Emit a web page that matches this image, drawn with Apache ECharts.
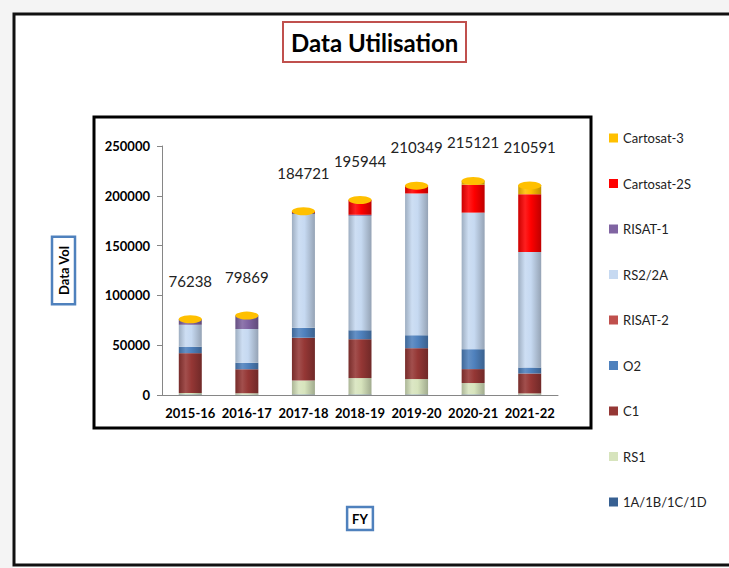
<!DOCTYPE html>
<html><head><meta charset="utf-8">
<script src="https://cdn.jsdelivr.net/npm/echarts@6/dist/echarts.min.js"></script>
<style>html,body{margin:0;padding:0;background:#fff}#chart{width:729px;height:568px}</style>
</head><body><div id="chart"></div>
<script>
const categories = ['2015-16','2016-17','2017-18','2018-19','2019-20','2020-21','2021-22'];
const s1A      = [500, 300, 500, 500, 500, 500, 300];
const sRS1     = [1500, 1500, 14000, 16500, 15500, 11500, 1291];
const sC1      = [40000, 24000, 43000, 39000, 31000, 14000, 20000];
const sO2      = [6500, 6500, 10000, 9000, 13000, 20000, 6000];
const sRISAT2  = [0, 0, 0, 0, 0, 0, 0];
const sRS2     = [22000, 34000, 114221, 114944, 142349, 137121, 116000];
const sRISAT1  = [5738, 13569, 1000, 1000, 0, 0, 0];
const sCarto2S = [0, 0, 2000, 15000, 8000, 28000, 58000];
const sCarto3  = [0, 0, 0, 0, 0, 4000, 9000];
const totals   = [76238, 79869, 184721, 195944, 210349, 215121, 210591];
const yMin = 0, yMax = 250000, yStep = 50000;

const seriesDefs = [
  ['1A/1B/1C/1D', s1A, '#376092'],
  ['RS1', sRS1, '#D7E4BD'],
  ['C1', sC1, '#953735'],
  ['O2', sO2, '#4F81BD'],
  ['RISAT-2', sRISAT2, '#C0504D'],
  ['RS2/2A', sRS2, '#C6D9F1'],
  ['RISAT-1', sRISAT1, '#8064A2'],
  ['Cartosat-2S', sCarto2S, '#FF0000'],
  ['Cartosat-3', sCarto3, '#FFC000']
];
function mix(hex, t) {
  const n = parseInt(hex.slice(1), 16);
  let r = n >> 16, g = (n >> 8) & 255, b = n & 255;
  const f = c => Math.round(t < 0 ? c * (1 + t) : c + (255 - c) * t);
  return 'rgb(' + f(r) + ',' + f(g) + ',' + f(b) + ')';
}
function cyl(c) {
  return { type: 'linear', x: 0, y: 0, x2: 1, y2: 0, colorStops: [
    { offset: 0, color: mix(c, -0.2) }, { offset: 0.3, color: mix(c, 0.12) },
    { offset: 0.55, color: c }, { offset: 1, color: mix(c, -0.25) } ] };
}
const FONT = 'Lato';
const series = seriesDefs.map(([name, data, color]) => ({
  name, type: 'bar', stack: 'total', data, barWidth: 23,
  itemStyle: { color: cyl(color) }
}));
series.push({
  name: 'cap', type: 'pictorialBar', data: totals, symbol: 'circle',
  symbolSize: [23, 8], symbolPosition: 'end', symbolOffset: [0, '-50%'], z: 10,
  itemStyle: { color: '#FFC000', borderColor: '#D9A300', borderWidth: 0.5 },
  label: { show: true, position: 'top', distance: 27, fontFamily: FONT, fontSize: 15, color: '#222' },
  silent: true
});
const legendData = seriesDefs.slice().reverse().map(([name, , color]) => ({ name, itemStyle: { color } }));

const chart = echarts.init(document.getElementById('chart'), null, { renderer: 'svg' });
chart.setOption({
  animation: false,
  backgroundColor: '#fff',
  title: {
    text: 'Data Utilisation', left: 283, top: 22, padding: [8, 8],
    borderColor: '#C0504D', borderWidth: 2,
    textStyle: { fontFamily: FONT, fontWeight: 'bold', fontSize: 24, color: '#000' }
  },
  legend: {
    orient: 'vertical', left: 609, top: 131, padding: 0, itemWidth: 9, itemHeight: 9, itemGap: 31.5,
    icon: 'rect', data: legendData,
    textStyle: { fontFamily: FONT, fontSize: 13, color: '#222', lineHeight: 14 }
  },
  grid: { left: 162, top: 146, width: 396, height: 249, containLabel: false },
  xAxis: {
    type: 'category', data: categories,
    name: 'FY', nameLocation: 'middle', nameGap: 112,
    nameTextStyle: { fontFamily: FONT, fontWeight: 'bold', fontSize: 13, color: '#000',
      borderColor: '#4F81BD', borderWidth: 2.5, padding: [5, 5] },
    axisLine: { lineStyle: { color: '#868686' } },
    axisTick: { lineStyle: { color: '#868686' }, length: 5 },
    axisLabel: { interval: 0, fontFamily: FONT, fontWeight: 'bold', fontSize: 13, color: '#000', margin: 11 }
  },
  yAxis: {
    type: 'value', min: yMin, max: yMax, interval: yStep,
    name: 'Data Vol', nameLocation: 'middle', nameGap: 87, nameRotate: 90,
    nameTextStyle: { fontFamily: FONT, fontWeight: 'bold', fontSize: 13, color: '#000',
      borderColor: '#4F81BD', borderWidth: 2.5, padding: [5, 9] },
    axisLine: { show: true, lineStyle: { color: '#868686' } },
    axisTick: { show: true, length: 5, lineStyle: { color: '#868686' } },
    splitLine: { show: false },
    axisLabel: { formatter: v => String(v), fontFamily: FONT, fontWeight: 'bold', fontSize: 13, color: '#000', margin: 12 }
  },
  graphic: [
    { type: 'rect', shape: { x: 0, y: 0, width: 729, height: 13 }, style: { fill: '#f4f4f4' }, z: -10 },
    { type: 'rect', shape: { x: 0, y: 0, width: 13, height: 568 }, style: { fill: '#f4f4f4' }, z: -10 },
    { type: 'rect', shape: { x: 14, y: 14, width: 740, height: 551 }, style: { fill: 'none', stroke: '#111', lineWidth: 3 }, z: -5 },
    { type: 'rect', shape: { x: 94, y: 117, width: 497, height: 311 }, style: { fill: 'none', stroke: '#000', lineWidth: 3 }, z: -5 }
  ],
  series
});
</script></body></html>
